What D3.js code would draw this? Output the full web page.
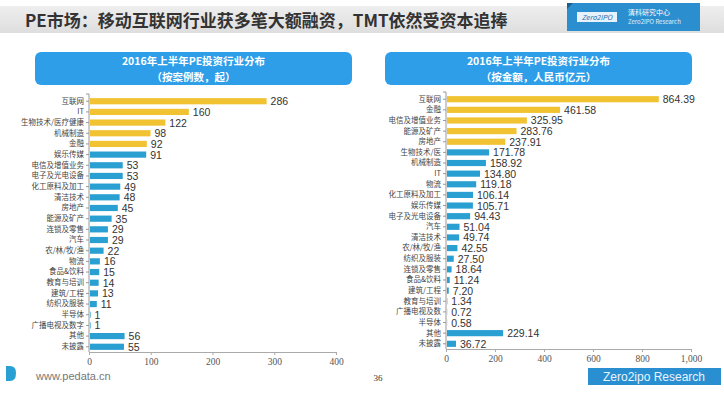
<!DOCTYPE html>
<html>
<head>
<meta charset="utf-8">
<script src="https://cdn.jsdelivr.net/npm/d3@7"></script>
<style>
  body { margin: 0; background: #fff; }
  svg { display: block; font-family: "Noto Sans CJK SC", "Noto Sans", sans-serif; }
</style>
</head>
<body>
<div id="chart"></div>
<script>
// Left panel: deal count
const countCategories = ["互联网", "IT", "生物技术/医疗健康", "机械制造", "金融", "娱乐传媒", "电信及增值业务", "电子及光电设备",
  "化工原料及加工", "清洁技术", "房地产", "能源及矿产", "连锁及零售", "汽车", "农/林/牧/渔", "物流", "食品&饮料",
  "教育与培训", "建筑/工程", "纺织及服装", "半导体", "广播电视及数字", "其他", "未披露"]
const countValues = [286, 160, 122, 98, 92, 91, 53, 53, 49, 48, 45, 35, 29, 29, 22, 16, 15, 14, 13, 11, 1, 1, 56, 55]
const countTicks = [0, 100, 200, 300, 400]

// Right panel: amount (RMB 100m)
const amountCategories = ["互联网", "金融", "电信及增值业务", "能源及矿产", "房地产", "生物技术/医", "机械制造", "IT", "物流",
  "化工原料及加工", "娱乐传媒", "电子及光电设备", "汽车", "清洁技术", "农/林/牧/渔", "纺织及服装", "连锁及零售", "食品&饮料",
  "建筑/工程", "教育与培训", "广播电视及数", "半导体", "其他", "未披露"]
const amountValues = [864.39, 461.58, 325.95, 283.76, 237.91, 171.78, 158.92, 134.80, 119.18, 106.14, 105.71, 94.43,
  51.04, 49.74, 42.55, 27.50, 18.64, 11.24, 7.20, 1.34, 0.72, 0.58, 229.14, 36.72]
const amountTicks = [0, 200, 400, 600, 800, 1000]

const W = 724, H = 397
const yellow = "#f1c232", blue = "#2a9fd2"

const svg = d3.select("#chart").append("svg")
  .attr("width", W).attr("height", H)

// Header band
const defs = svg.append("defs")
const grad = defs.append("linearGradient").attr("id", "hdr").attr("x1", 0).attr("y1", 0).attr("x2", 0).attr("y2", 1)
grad.append("stop").attr("offset", "0%").attr("stop-color", "#eeeeee")
grad.append("stop").attr("offset", "100%").attr("stop-color", "#dedede")
svg.append("rect").attr("x", 0).attr("y", 6).attr("width", W).attr("height", 27).attr("fill", "url(#hdr)")

svg.append("text")
  .attr("x", 25).attr("y", 27)
  .attr("font-size", 17).attr("font-weight", "bold").attr("fill", "#333")
  .text("PE市场：移动互联网行业获多笔大额融资，TMT依然受资本追捧")

// Logo box
const logo = svg.append("g")
logo.append("rect").attr("x", 567).attr("y", 3).attr("width", 133).attr("height", 28).attr("fill", "#2b8fcf")
logo.append("path").attr("d", "M567,3 L567,9 L573,3 Z").attr("fill", "#1a5f8f")
logo.append("rect").attr("x", 577).attr("y", 12).attr("width", 40).attr("height", 10).attr("fill", "#e8f2fa")
logo.append("text").attr("x", 597).attr("y", 20).attr("text-anchor", "middle")
  .attr("font-size", 7).attr("font-style", "italic").attr("fill", "#2b6fae").text("Zero2IPO")
logo.append("text").attr("x", 628).attr("y", 15).attr("font-size", 7).attr("fill", "#fff").text("清科研究中心")
logo.append("text").attr("x", 628).attr("y", 24).attr("font-size", 6).attr("fill", "#e0eefa").text("Zero2IPO Research")

function panel(opts) {
  const g = svg.append("g")

  // Title box
  g.append("rect")
    .attr("x", opts.boxX).attr("y", 52).attr("width", opts.boxW).attr("height", 33)
    .attr("rx", 6).attr("fill", "#2e9ee8")
  g.append("text").attr("x", opts.boxX + opts.boxW / 2).attr("y", 65)
    .attr("text-anchor", "middle").attr("font-size", 10.5).attr("font-weight", "bold").attr("fill", "#fff")
    .text("2016年上半年PE投资行业分布")
  g.append("text").attr("x", opts.boxX + opts.boxW / 2).attr("y", 80.5)
    .attr("text-anchor", "middle").attr("font-size", 10.5).attr("font-weight", "bold").attr("fill", "#fff")
    .text(opts.subtitle)

  const x = d3.scaleLinear().domain(opts.domain).range([opts.x0, opts.x1])
  const y = d3.scaleBand().domain(opts.categories).range([opts.yTop, opts.yBottom]).paddingInner(0.42).paddingOuter(0.2)

  const data = opts.categories.map((c, i) => ({ cat: c, value: opts.values[i], i }))

  g.selectAll("rect.bar")
    .data(data)
    .join("rect")
    .attr("class", "bar")
    .attr("x", x(0) + 1)
    .attr("y", d => y(d.cat))
    .attr("width", d => Math.max(0, x(d.value) - x(0)))
    .attr("height", y.bandwidth())
    .attr("fill", d => d.i < opts.highlight ? yellow : blue)

  g.selectAll("text.val")
    .data(data)
    .join("text")
    .attr("class", "val")
    .attr("x", d => x(d.value) + 5)
    .attr("y", d => y(d.cat) + y.bandwidth() / 2 + 4)
    .attr("font-size", 10.5)
    .attr("font-family", "Liberation Sans, sans-serif")
    .attr("fill", "#333")
    .text(d => opts.fmt(d.value))

  // Category axis
  const yAxis = g.append("g")
    .attr("transform", `translate(${x(0)},0)`)
    .call(d3.axisLeft(y).tickSize(3).tickPadding(2))
  yAxis.select(".domain").attr("stroke", "#999").attr("d", `M-3,${opts.yTop - 2}H0V${opts.yBottom}`)
  yAxis.selectAll(".tick line").attr("stroke", "#999")
  yAxis.selectAll(".tick text").attr("font-size", 7.5).attr("fill", "#444")
    .attr("font-family", "Noto Sans CJK SC, sans-serif")

  // Value axis
  const xAxis = g.append("g")
    .attr("transform", `translate(0,${opts.yBottom})`)
    .call(d3.axisBottom(x).tickValues(opts.ticks).tickSize(3).tickSizeOuter(0).tickFormat(d3.format(",")))
  xAxis.select(".domain").attr("stroke", "#aaa")
  xAxis.selectAll(".tick line").attr("stroke", "#aaa")
  xAxis.selectAll(".tick text").attr("font-size", 9.5).attr("fill", "#555")
    .attr("font-family", "Liberation Serif, serif")
}

panel({
  boxX: 35, boxW: 317,
  subtitle: "（按案例数，起）",
  categories: countCategories, values: countValues, ticks: countTicks,
  domain: [0, 400], x0: 89, x1: 336, yTop: 96, yBottom: 352,
  highlight: 5, fmt: d => d3.format("d")(d)
})

panel({
  boxX: 385, boxW: 307,
  subtitle: "（按金额，人民币亿元）",
  categories: amountCategories, values: amountValues, ticks: amountTicks,
  domain: [0, 1000], x0: 446, x1: 691, yTop: 94, yBottom: 349,
  highlight: 5, fmt: d => d3.format(".2f")(d)
})

// Footer
svg.append("path").attr("d", "M6,366 L10,366 Q16,366 16,373 Q16,381 10,381 L6,381 Z").attr("fill", "#2a9fd2")
svg.append("text").attr("x", 36).attr("y", 380).attr("font-size", 11).attr("fill", "#777")
  .attr("font-family", "Liberation Sans, sans-serif").text("www.pedata.cn")
svg.append("text").attr("x", 378).attr("y", 381).attr("font-size", 9).attr("fill", "#333")
  .attr("text-anchor", "middle").attr("font-family", "Liberation Serif, serif").text("36")
svg.append("rect").attr("x", 588).attr("y", 368).attr("width", 133).attr("height", 17).attr("fill", "#2a8fd0")
svg.append("text").attr("x", 654).attr("y", 381).attr("text-anchor", "middle").attr("font-size", 12)
  .attr("fill", "#e8f4ff").attr("font-family", "Liberation Sans, sans-serif").text("Zero2ipo Research")
</script>
</body>
</html>
